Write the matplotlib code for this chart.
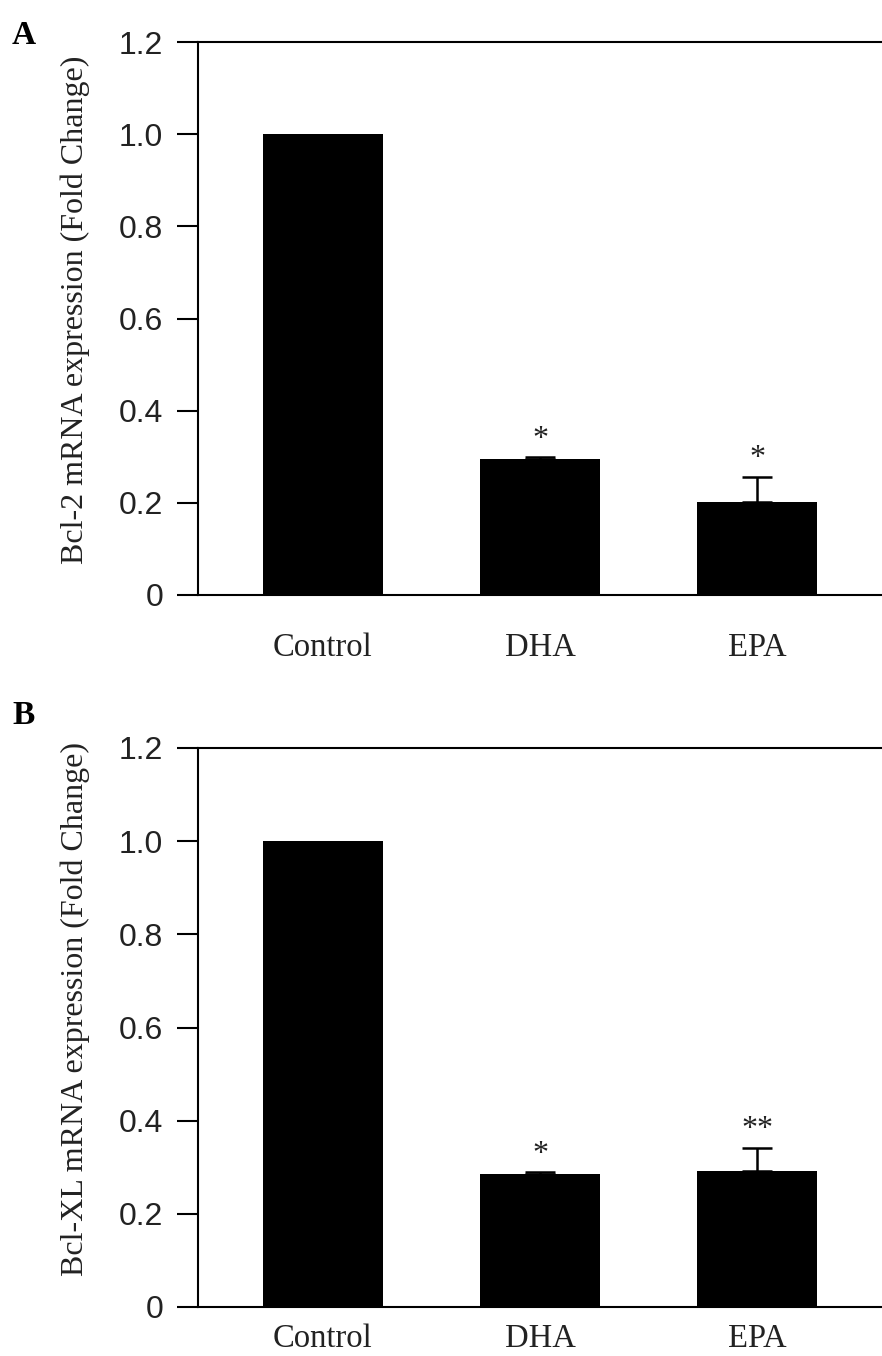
import matplotlib
matplotlib.use("Agg")
import matplotlib.pyplot as plt
import numpy as np

# data
groups = ["Control", "DHA", "EPA"]
bcl2_mean = [1.0, 0.295, 0.202]
bcl2_err = [np.nan, 0.005, 0.055]
bcl2_stars = ["", "*", "*"]
bclxl_mean = [1.0, 0.286, 0.292]
bclxl_err = [np.nan, 0.004, 0.05]
bclxl_stars = ["", "*", "**"]
yticks = [0, 0.2, 0.4, 0.6, 0.8, 1.0, 1.2]
ytick_labels = ["0", "0.2", "0.4", "0.6", "0.8", "1.0", "1.2"]

sans = "Liberation Sans"
serif = "Liberation Serif"

fig = plt.figure(figsize=(8.82, 13.56), dpi=100)
W, H = 882, 1356


def make_panel(rect, means, errs, stars, ylabel, label_y, xpad, letter, letter_xy):
    ax = fig.add_axes(rect)
    x = np.arange(len(groups))
    ax.bar(x, means, width=0.557, color="black", zorder=2)
    e = np.array(errs, dtype=float)
    ok = ~np.isnan(e)
    ax.errorbar(x[ok], np.array(means)[ok], yerr=[np.zeros(ok.sum()), e[ok]], fmt="none",
                ecolor="black", elinewidth=1.8, capsize=11, capthick=1.8, zorder=3)
    for xi, m, er, s in zip(x, means, e, stars):
        if s:
            ax.text(xi, m + (0 if np.isnan(er) else er) + 0.022, s, ha="center",
                    va="baseline", family=serif, fontsize=23, color="#222222")
    ax.set_xlim(-0.576, 2.576)
    ax.set_ylim(0, 1.2)
    ax.set_yticks(yticks)
    ax.set_yticklabels(ytick_labels, family=sans, fontsize=23, color="#222222")
    ax.set_xticks(x)
    ax.set_xticklabels(groups, family=serif, fontsize=23.5, color="#222222")
    ax.tick_params(axis="x", length=0, pad=xpad)
    ax.tick_params(axis="y", direction="out", length=15, width=1.5, pad=10)
    ax.spines["right"].set_visible(False)
    for sp in ["left", "top", "bottom"]:
        ax.spines[sp].set_linewidth(1.5)
    ax.set_ylabel(ylabel, family=serif, fontsize=23, color="#222222")
    ax.yaxis.set_label_coords(-0.158, label_y)
    fig.text(letter_xy[0] / W, 1 - letter_xy[1] / H, letter, family=serif,
             fontweight="bold", fontsize=24, ha="left", va="top")
    return ax


make_panel([198 / W, 1 - 595 / H, 1 - 198 / W, (595 - 42) / H],
           bcl2_mean, bcl2_err, bcl2_stars,
           "Bcl-2 mRNA expression (Fold Change)", 0.515, 27, "A", (12, 20))
make_panel([198 / W, 1 - 1307 / H, 1 - 198 / W, (1307 - 748) / H],
           bclxl_mean, bclxl_err, bclxl_stars,
           "Bcl-XL mRNA expression (Fold Change)", 0.533, 12, "B", (12, 700))

fig.savefig("out.png", dpi=100)
